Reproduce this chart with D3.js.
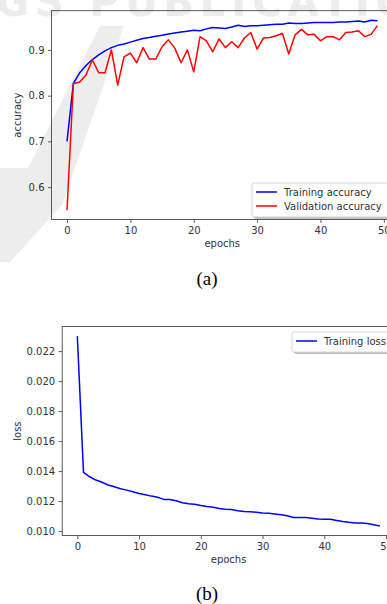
<!DOCTYPE html>
<html>
<head>
<meta charset="utf-8">
<script src="https://cdn.jsdelivr.net/npm/d3@7"></script>
<style>
  html, body { margin: 0; padding: 0; background: #fff; overflow: hidden; }
  svg { display: block; }
  .tick text { font-family: "DejaVu Sans", sans-serif; font-size: 10px; fill: #333; }
  .tick line { stroke: #333; stroke-width: 0.8; }
  .domain { display: none; }
</style>
</head>
<body>
<div id="viz"></div>
<script>
// ── DATA ────────────────────────────────────────────────────────────────────
const xTicks = [0, 10, 20, 30, 40, 50];
const accTicks = [0.6, 0.7, 0.8, 0.9];
const lossTicks = [0.010, 0.012, 0.014, 0.016, 0.018, 0.020, 0.022];

const trainAcc = [0.700, 0.827, 0.850, 0.866, 0.879, 0.889, 0.898, 0.905, 0.910, 0.913,
  0.917, 0.921, 0.925, 0.927, 0.930, 0.932, 0.935, 0.937, 0.939, 0.941,
  0.943, 0.942, 0.946, 0.949, 0.948, 0.947, 0.950, 0.954, 0.951, 0.953,
  0.953, 0.954, 0.955, 0.956, 0.956, 0.959, 0.958, 0.958, 0.959, 0.960,
  0.960, 0.960, 0.960, 0.961, 0.961, 0.962, 0.963, 0.961, 0.965, 0.964];

const valAcc = [0.550, 0.826, 0.830, 0.845, 0.878, 0.850, 0.850, 0.900, 0.823, 0.885,
  0.893, 0.872, 0.905, 0.880, 0.880, 0.907, 0.922, 0.904, 0.872, 0.900,
  0.852, 0.929, 0.920, 0.896, 0.924, 0.905, 0.918, 0.905, 0.926, 0.938,
  0.902, 0.926, 0.927, 0.931, 0.936, 0.891, 0.933, 0.945, 0.933, 0.934,
  0.920, 0.929, 0.929, 0.922, 0.938, 0.939, 0.942, 0.929, 0.934, 0.953];

const trainLoss = [0.02300, 0.01391, 0.01362, 0.01340, 0.01325, 0.01307, 0.01295, 0.01282, 0.01273, 0.01262,
  0.01251, 0.01242, 0.01233, 0.01225, 0.01211, 0.01210, 0.01202, 0.01189, 0.01182, 0.01178,
  0.01171, 0.01164, 0.01158, 0.01151, 0.01145, 0.01144, 0.01136, 0.01131, 0.01129, 0.01125,
  0.01120, 0.01118, 0.01114, 0.01109, 0.01102, 0.01091, 0.01090, 0.01090, 0.01086, 0.01080,
  0.01078, 0.01078, 0.01071, 0.01064, 0.01058, 0.01053, 0.01053, 0.01051, 0.01042, 0.01033];

// ── SETTINGS ────────────────────────────────────────────────────────────────
const width = 387, height = 604;
const svg = d3.select("#viz").append("svg")
    .attr("viewBox", [0, 0, width, height])
    .attr("width", width)
    .attr("height", height);

// faint publisher watermark behind the figure
svg.append("path")
    .attr("d", "M100,26 L124,26 L62,205 L10,262 L0,262 L0,168 L28,168 Z")
    .attr("fill", "#ededed");
svg.append("text")
    .attr("x", -4).attr("y", 16)
    .attr("font-family", "DejaVu Sans, sans-serif")
    .attr("font-weight", "bold")
    .attr("font-size", 40)
    .attr("letter-spacing", 6)
    .attr("fill", "#ececec")
    .text("GS PUBLICATIO");

// matplotlib style auto-limits: 5% padding
function padded(lo, hi) {
  const p = (hi - lo) * 0.05;
  return [lo - p, hi + p];
}

// ── PANEL ───────────────────────────────────────────────────────────────────
function panel(opt) {
  const g = svg.append("g");
  const n = opt.series[0].values.length;
  const x = d3.scaleLinear().domain(padded(0, n - 1)).range([opt.left, opt.right]);
  const all = opt.series.flatMap(s => s.values);
  const y = d3.scaleLinear().domain(padded(d3.min(all), d3.max(all))).range([opt.bottom, opt.top]);

  g.append("g")
      .attr("transform", `translate(0,${opt.bottom})`)
      .call(d3.axisBottom(x).tickValues(xTicks).tickSize(3.5).tickPadding(3.5).tickFormat(d3.format("d")));
  g.append("g")
      .attr("transform", `translate(${opt.left},0)`)
      .call(d3.axisLeft(y).tickValues(opt.yTicks).tickSize(3.5).tickPadding(3.5).tickFormat(opt.fmt));

  const line = d3.line().x((d, i) => x(i)).y(d => y(d));
  opt.series.forEach(s => {
    g.append("path")
        .datum(s.values)
        .attr("fill", "none")
        .attr("stroke", s.color)
        .attr("stroke-width", 1.5)
        .attr("stroke-linejoin", "round")
        .attr("d", line);
  });

  // spines
  g.append("rect")
      .attr("x", opt.left).attr("y", opt.top)
      .attr("width", opt.right - opt.left).attr("height", opt.bottom - opt.top)
      .attr("fill", "none").attr("stroke", "#333").attr("stroke-width", 0.8);

  g.append("text")
      .attr("x", (opt.left + opt.right) / 2).attr("y", opt.bottom + 27)
      .attr("text-anchor", "middle")
      .attr("font-family", "DejaVu Sans, sans-serif").attr("font-size", 10).attr("fill", "#333")
      .text("epochs");
  g.append("text")
      .attr("transform", `translate(21,${(opt.top + opt.bottom) / 2}) rotate(-90)`)
      .attr("text-anchor", "middle")
      .attr("font-family", "DejaVu Sans, sans-serif").attr("font-size", 10).attr("fill", "#333")
      .text(opt.yLabel);

  // legend with shadow
  const lg = g.append("g").attr("transform", `translate(${opt.legend.x},${opt.legend.y})`);
  const lh = 6 + opt.series.length * 14;
  lg.append("rect").attr("x", 2).attr("y", 2).attr("width", opt.legend.w).attr("height", lh)
      .attr("rx", 2).attr("fill", "#888").attr("opacity", 0.5);
  lg.append("rect").attr("x", 0).attr("y", 0).attr("width", opt.legend.w).attr("height", lh)
      .attr("rx", 2).attr("fill", "#fff").attr("stroke", "#ccc").attr("stroke-width", 0.8);
  opt.series.forEach((s, i) => {
    const cy = 9 + i * 14;
    lg.append("line").attr("x1", 4).attr("x2", 25).attr("y1", cy).attr("y2", cy)
        .attr("stroke", s.color).attr("stroke-width", 1.5);
    lg.append("text").attr("x", 32).attr("y", cy + 3.5)
        .attr("font-family", "DejaVu Sans, sans-serif").attr("font-size", 10).attr("fill", "#333")
        .text(s.name);
  });

  svg.append("text")
      .attr("x", 207).attr("y", opt.captionY)
      .attr("text-anchor", "middle")
      .attr("font-family", "Liberation Serif, Times New Roman, serif")
      .attr("font-size", 19).attr("fill", "#000")
      .text(opt.caption);
}

panel({
  left: 51.5, right: 393, top: 10.7, bottom: 219.5,
  series: [
    { name: "Training accuracy", values: trainAcc, color: "#0000ff" },
    { name: "Validation accuracy", values: valAcc, color: "#ff0000" }
  ],
  yTicks: accTicks, fmt: d3.format(".1f"), yLabel: "accuracy",
  legend: { x: 252, y: 183, w: 140 },
  caption: "(a)", captionY: 285
});

panel({
  left: 62.2, right: 395, top: 326.6, bottom: 535.6,
  series: [
    { name: "Training loss", values: trainLoss, color: "#0000ff" }
  ],
  yTicks: lossTicks, fmt: d3.format(".3f"), yLabel: "loss",
  legend: { x: 292, y: 332, w: 100 },
  caption: "(b)", captionY: 600
});
</script>
</body>
</html>
